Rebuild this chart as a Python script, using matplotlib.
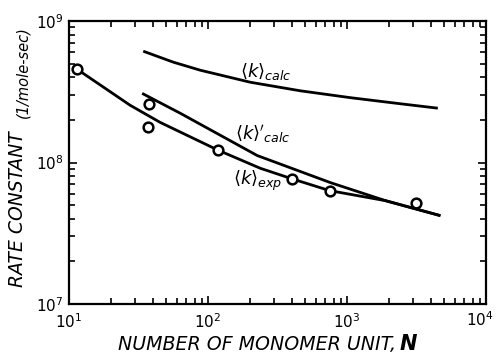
import matplotlib
matplotlib.use("Agg")
import matplotlib.pyplot as plt
import matplotlib.transforms as mtransforms
from matplotlib.ticker import LogLocator, NullFormatter, FuncFormatter

plt.rcParams['font.family'] = ['DejaVu Sans']
plt.rcParams['mathtext.fontset'] = 'dejavusans'
plt.rcParams['mathtext.default'] = 'it'

# measured points
pt_n = [11.4, 37.8, 37.0, 118.6, 405, 750, 3125]
pt_k = [4.57e8, 2.58e8, 1.77e8, 1.22e8, 7.7e7, 6.33e7, 5.2e7]

# <k>exp curve
exp_n = [11.4, 27.5, 45.3, 118.6, 238, 405, 750, 1897, 4700]
exp_k = [4.57e8, 2.54e8, 1.92e8, 1.22e8, 9.1e7, 7.65e7, 6.33e7, 5.37e7, 4.21e7]

# <k>'calc curve
calc2_n = [33.6, 63.1, 226, 762, 1897, 4700]
calc2_k = [3.08e8, 2.23e8, 1.12e8, 7.2e7, 5.37e7, 4.21e7]

# <k>calc curve
calc_n = [34.2, 56.2, 88, 202, 463, 1062, 2430, 4500]
calc_k = [6.12e8, 5.12e8, 4.49e8, 3.69e8, 3.21e8, 2.87e8, 2.6e8, 2.42e8]

W, H = 496, 355
fig = plt.figure(figsize=(W / 100, H / 100), dpi=100)
ax = fig.add_axes([69 / W, 1 - 304 / H, (486 - 69) / W, (304 - 21) / H])

ax.plot(calc_n, calc_k, color='black', lw=2.0, solid_capstyle='butt')
ax.plot(calc2_n, calc2_k, color='black', lw=2.0, solid_capstyle='butt')
ax.plot(exp_n, exp_k, color='black', lw=2.0, solid_capstyle='butt')
ax.plot(pt_n, pt_k, 'o', ms=7, mfc='white', mec='black', mew=1.8, zorder=3)

ax.set_xscale('log')
ax.set_yscale('log')
ax.set_xlim(10, 1e4)
ax.set_ylim(1e7, 1e9)
for a in (ax.xaxis, ax.yaxis):
    a.set_major_locator(LogLocator(base=10, numticks=10))
    a.set_minor_locator(LogLocator(base=10, subs=range(2, 10), numticks=10))
    a.set_minor_formatter(NullFormatter())


def pow_label(v, pos):
    e = int(round(__import__('math').log10(v)))
    return r'$10^{%d}$' % e


ax.yaxis.set_major_formatter(FuncFormatter(pow_label))
# 10^4 is drawn separately so it can sit a bit left of its tick
ax.xaxis.set_major_formatter(FuncFormatter(lambda v, pos: '' if v >= 1e4 else pow_label(v, pos)))

for s in ax.spines.values():
    s.set_linewidth(1.6)
ax.tick_params(which='both', direction='in', top=True, right=True, width=1.2)
ax.tick_params(which='major', length=6)
ax.tick_params(which='minor', length=4)
ax.tick_params(axis='x', which='major', pad=6, labelsize=11)
ax.tick_params(axis='y', which='major', pad=4, labelsize=11)

trans = mtransforms.blended_transform_factory(ax.transData, ax.transAxes)
trans = trans + mtransforms.ScaledTranslation(8 / 100, -6 / 100, fig.dpi_scale_trans)
ax.text(1e4, 0, r'$10^{4}$', transform=trans, ha='right', va='top', fontsize=11)

ax.text(0.41, 0.802, r"$\langle k\rangle_{calc}$", transform=ax.transAxes, fontsize=13, va='baseline')
ax.text(0.398, 0.58, r"$\langle k\rangle'_{calc}$", transform=ax.transAxes, fontsize=13, va='baseline')
ax.text(0.393, 0.42, r"$\langle k\rangle_{exp}$", transform=ax.transAxes, fontsize=13, va='baseline')

fig.text(396 / W, 1 - 350 / H, 'NUMBER OF MONOMER UNIT,', ha='right', va='baseline',
         fontsize=13.7, style='italic')
fig.text(400 / W, 1 - 350 / H, 'N', ha='left', va='baseline',
         fontsize=15, style='italic', weight='bold')

fig.text(18 / W, 1 - 287 / H, 'RATE CONSTANT', rotation=90, ha='center', va='bottom',
         fontsize=13.5, style='italic')
fig.text(23 / W, 1 - 118 / H, '(1/mole-sec)', rotation=90, ha='center', va='bottom',
         fontsize=10.5, style='italic')

fig.savefig('out.png', dpi=100)
